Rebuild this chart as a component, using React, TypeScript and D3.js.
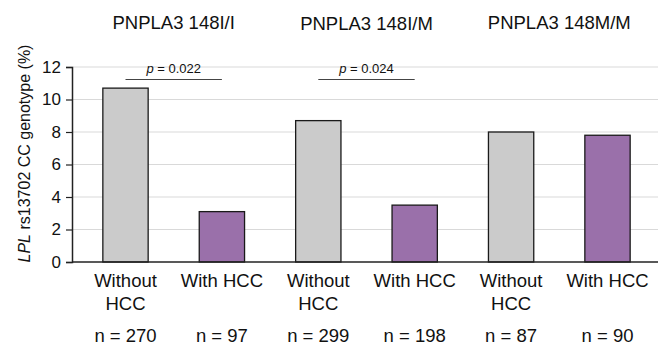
import { useEffect, useRef } from "react";
import * as d3 from "d3";

// chart values
const groups = ["PNPLA3 148I/I", "PNPLA3 148I/M", "PNPLA3 148M/M"];
const barLabels = [["Without", "HCC"], ["With HCC"], ["Without", "HCC"], ["With HCC"], ["Without", "HCC"], ["With HCC"]];
const nCounts = [270, 97, 299, 198, 87, 90];
const ccValues = [10.7, 3.1, 8.7, 3.5, 8.0, 7.8];
const hasHcc = [false, true, false, true, false, true];
const yTicks = [0, 2, 4, 6, 8, 10, 12];
const pValues = [
  { from: 0, to: 1, label: "0.022" },
  { from: 2, to: 3, label: "0.024" },
];

const W = 658;
const H = 346;
const axisX = 72;

export default function App() {
  const ref = useRef<SVGSVGElement>(null);

  useEffect(() => {
    const svg = d3.select(ref.current);
    svg.selectAll("*").remove();

    const font = "'Liberation Sans', Arial, sans-serif";
    const idx = ccValues.map((_, i) => String(i));

    const x = d3
      .scaleBand()
      .domain(idx)
      .range([77.3, 655.7])
      .paddingInner(0.53)
      .paddingOuter(0.265);

    const y = d3.scaleLinear().domain([0, 12]).range([262, 67]);

    // gridlines
    svg
      .append("g")
      .selectAll("line")
      .data(yTicks.filter((t) => t > 0))
      .join("line")
      .attr("x1", axisX)
      .attr("x2", W)
      .attr("y1", (d) => y(d))
      .attr("y2", (d) => y(d))
      .attr("stroke", "#d9d9d9")
      .attr("stroke-width", 1);

    // bars
    svg
      .append("g")
      .selectAll("rect")
      .data(ccValues)
      .join("rect")
      .attr("x", (_, i) => x(String(i))!)
      .attr("y", (d) => y(d))
      .attr("width", x.bandwidth())
      .attr("height", (d) => y(0) - y(d))
      .attr("fill", (_, i) => (hasHcc[i] ? "#9a70aa" : "#cbcbcb"))
      .attr("stroke", "#1a1a1a")
      .attr("stroke-width", 1.3);

    // y axis
    const yAxis = svg
      .append("g")
      .attr("transform", `translate(${axisX},0)`)
      .call(d3.axisLeft(y).tickValues(yTicks).tickSize(6).tickPadding(5));
    yAxis.select(".domain").attr("stroke", "#222").attr("stroke-width", 1.5);
    yAxis.selectAll(".tick line").attr("stroke", "#222").attr("stroke-width", 1.2);
    yAxis
      .selectAll(".tick text")
      .attr("fill", "#111")
      .style("font-family", font)
      .style("font-size", "17px");

    // baseline
    svg
      .append("line")
      .attr("x1", axisX)
      .attr("x2", W)
      .attr("y1", y(0))
      .attr("y2", y(0))
      .attr("stroke", "#222")
      .attr("stroke-width", 1.5);

    // y label
    const yl = svg
      .append("text")
      .attr("transform", `translate(30,${(y(0) + y(12)) / 2 - 11})rotate(-90)`)
      .attr("text-anchor", "middle")
      .style("font-family", font)
      .style("font-size", "16px")
      .attr("fill", "#111");
    yl.append("tspan").style("font-style", "italic").text("LPL");
    yl.append("tspan").text(" rs13702 CC genotype (%)");

    // group titles
    svg
      .append("g")
      .selectAll("text")
      .data(groups)
      .join("text")
      .attr("x", (_, g) => (x(String(g * 2))! + x(String(g * 2 + 1))! + x.bandwidth()) / 2)
      .attr("y", (_, g) => (g === 1 ? 30 : 29))
      .attr("text-anchor", "middle")
      .style("font-family", font)
      .style("font-size", "18.5px")
      .attr("fill", "#111")
      .text((d) => d);

    // x labels
    const xl = svg
      .append("g")
      .selectAll("text")
      .data(barLabels)
      .join("text")
      .attr("x", (_, i) => x(String(i))! + x.bandwidth() / 2)
      .attr("y", 287)
      .attr("text-anchor", "middle")
      .style("font-family", font)
      .style("font-size", "18.5px")
      .attr("fill", "#111");
    xl.selectAll("tspan")
      .data((d) => d)
      .join("tspan")
      .attr("x", function () {
        return (this as any).parentNode.getAttribute("x");
      })
      .attr("dy", (_, j) => (j === 0 ? 0 : 23))
      .text((d) => d);

    // n counts
    svg
      .append("g")
      .selectAll("text")
      .data(nCounts)
      .join("text")
      .attr("x", (_, i) => x(String(i))! + x.bandwidth() / 2)
      .attr("y", 342)
      .attr("text-anchor", "middle")
      .style("font-family", font)
      .style("font-size", "18.5px")
      .attr("fill", "#111")
      .text((d) => `n = ${d}`);

    // p-value brackets
    const pg = svg.append("g").selectAll("g").data(pValues).join("g");
    pg.append("line")
      .attr("x1", (d) => x(String(d.from))! + x.bandwidth() / 2)
      .attr("x2", (d) => x(String(d.to))! + x.bandwidth() / 2)
      .attr("y1", 79.5)
      .attr("y2", 79.5)
      .attr("stroke", "#444")
      .attr("stroke-width", 1);
    const pt = pg
      .append("text")
      .attr("x", (d) => (x(String(d.from))! + x(String(d.to))! + x.bandwidth()) / 2)
      .attr("y", 73)
      .attr("text-anchor", "middle")
      .style("font-family", font)
      .style("font-size", "13px")
      .attr("fill", "#111");
    pt.append("tspan").style("font-style", "italic").text("p");
    pt.append("tspan").text((d) => ` = ${d.label}`);
  }, []);

  return (
    <svg
      ref={ref}
      width={W}
      height={H}
      style={{ position: "absolute", left: 0, top: 0, background: "#fff" }}
    />
  );
}
